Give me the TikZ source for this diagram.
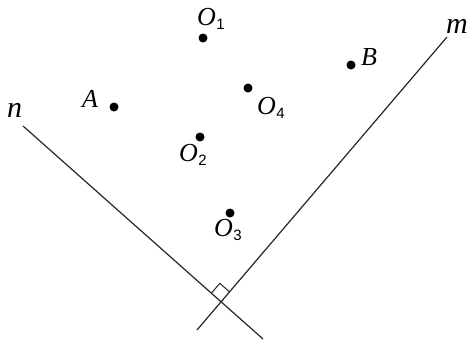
\documentclass[tikz,border=0pt]{standalone}
\usepackage{fontspec}
\setmainfont{Liberation Serif}
\newfontfamily\labfont{Liberation Serif Italic}
\newfontfamily\subfont{Liberation Sans}
\usetikzlibrary{calc}
\tikzset{
  dot/.style={circle,fill=black,inner sep=0pt,minimum size=9pt},
  lbl/.style={anchor=base west,inner sep=0pt,outer sep=0pt,font=\labfont\fontsize{26}{30}\selectfont},
  lbllower/.style={anchor=base west,inner sep=0pt,outer sep=0pt,font=\labfont\fontsize{30}{32}\selectfont},
  ln/.style={line width=1.2pt,draw=black!85},
}
\newcommand{\Olab}[1]{O\kern0.5pt\raisebox{-4pt}{\subfont\fontsize{15}{15}\selectfont #1}}
\begin{document}
\begin{tikzpicture}[x=1pt,y=-1pt]
\useasboundingbox (0,0) rectangle (468,343);
% lines
\coordinate (n1) at (23,126);
\coordinate (n2) at (263,339);
\coordinate (m1) at (197,330);
\coordinate (m2) at (447,37);
\coordinate (P) at (intersection of n1--n2 and m1--m2);
\draw[ln] (n1) -- (n2);
\draw[ln] (m1) -- (m2);
\coordinate (ra) at ($(P)!13pt!(n1)$);
\coordinate (rb) at ($(P)!13pt!(m2)$);
\draw[ln,line width=1pt] (ra) -- ($(ra)+(rb)-(P)$) -- (rb);
% points
\node[dot] (O1) at (203,38) {};
\node[dot] (A) at (114,107) {};
\node[dot] (B) at (351,65) {};
\node[dot] (O4) at (248,88) {};
\node[dot] (O2) at (200,137) {};
\node[dot] (O3) at (230,213) {};
% labels
\node[lbl] (lO1) at (197,25) {\Olab{1}};
\node[lbl] (lO2) at (179,161) {\Olab{2}};
\node[lbl] (lO3) at (214,236) {\Olab{3}};
\node[lbl] (lO4) at (257,114) {\Olab{4}};
\node[lbl] (lA) at (82,107) {A};
\node[lbl] (lB) at (361,65) {B};
\node[lbllower] (ln) at (7,117) {n};
\node[lbllower] (lm) at (446,33) {m};
\end{tikzpicture}
\end{document}
